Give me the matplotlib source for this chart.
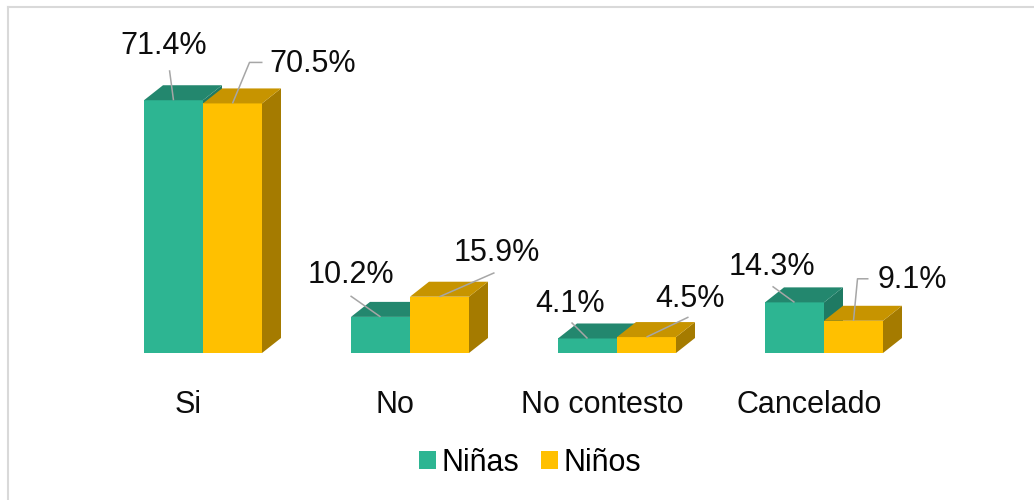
import numpy as np
import matplotlib
matplotlib.use('Agg')
import matplotlib.pyplot as plt
from matplotlib.patches import Polygon, Patch
from matplotlib.lines import Line2D

plt.rcParams['font.family'] = ['Liberation Sans', 'DejaVu Sans']

# Data
categories = ['Si', 'No', 'No contesto', 'Cancelado']
series = ['Niñas', 'Niños']
ninas = [71.4, 10.2, 4.1, 14.3]
ninos = [70.5, 15.9, 4.5, 9.1]
values = [ninas, ninos]

# Colours: front, top, side
front_cols = ['#2DB592', '#FFC000']
top_cols = ['#23876E', '#C79400']
side_cols = ['#1F7A63', '#A57B00']

# Geometry (pixel scale: 207 px per category, 3.54 px per %)
W, H = 1034, 500
px_cat, px_pct = 207.0, 3.54
x0_px, y0_px = 203.0, 353.0
bar_w = 59.0 / px_cat
dep_x = 19.0 / px_cat
dep_y = 15.0 / px_pct
fs = 22

fig = plt.figure(figsize=(W / 100, H / 100), dpi=100)
ax = fig.add_axes([0, 0, 1, 1])
ax.set_xlim(-x0_px / px_cat, (W - x0_px) / px_cat)
ax.set_ylim(-(H - y0_px) / px_pct, y0_px / px_pct)
ax.axis('off')

def box(ax, xl, h, k):
    xr = xl + bar_w
    ax.add_patch(Polygon([(xr, 0), (xr + dep_x, dep_y), (xr + dep_x, h + dep_y), (xr, h)],
                         closed=True, fc=side_cols[k], ec='none'))
    ax.add_patch(Polygon([(xl, 0), (xr, 0), (xr, h), (xl, h)],
                         closed=True, fc=front_cols[k], ec='none'))
    ax.add_patch(Polygon([(xl, h), (xr, h), (xr + dep_x, h + dep_y), (xl + dep_x, h + dep_y)],
                         closed=True, fc=top_cols[k], ec='none'))

for i in range(len(categories)):
    for k in range(2):
        box(ax, i - bar_w + k * bar_w, values[k][i], k)

# Data labels: leader points and text offset in pixels, relative to front-top centre of bar
label_layout = [
    [([(0, 0), (-4, 30)], (-10, 54), 'center'), ([(0, 0), (17, 41), (30, 41)], (37, 39), 'left')],
    [([(0, 0), (-30, 21)], (-30, 42), 'center'), ([(0, 0), (55, 24)], (57, 44), 'center')],
    [([(0, 0), (-16, 16)], (-17, 34), 'center'), ([(0, 0), (42, 20)], (43, 38), 'center')],
    [([(0, 0), (-22, 16)], (-23, 35), 'center'), ([(0, 0), (4, 42), (15, 42)], (24, 41), 'left')],
]

def to_data(xd, yd, dx, dy):
    return xd + dx / px_cat, yd + dy / px_pct

for i in range(len(categories)):
    for k in range(2):
        v = values[k][i]
        cx = i - bar_w / 2 + k * bar_w
        pts, toff, ha = label_layout[i][k]
        xs, ys = zip(*[to_data(cx, v, p[0], p[1]) for p in pts])
        ax.plot(xs, ys, color='#A6A6A6', lw=1.1, solid_capstyle='butt')
        tx, ty = to_data(cx, v, toff[0], toff[1])
        ax.text(tx, ty, f'{v:.1f}%', ha=ha, va='center', fontsize=fs, color='#0D0D0D')

# Category labels
for i, c in enumerate(categories):
    tx, ty = to_data(i, 0, -15, -52)
    ax.text(tx, ty, c, ha='center', va='center', fontsize=fs, color='#0D0D0D')

# Legend
handles = [Patch(fc=front_cols[k], ec='none', label=series[k]) for k in range(2)]
fig.legend(handles=handles, loc='center', bbox_to_anchor=(530 / W, 1 - 463 / H), ncol=2,
           frameon=False, fontsize=fs, handlelength=0.55, handleheight=0.55,
           handletextpad=0.2, columnspacing=0.7, borderpad=0)

# Chart frame (only top and left edges are visible)
fig.add_artist(Line2D([8 / W, 8 / W], [0, 1 - 7 / H], transform=fig.transFigure, color='#D9D9D9', lw=1.5))
fig.add_artist(Line2D([8 / W, 1], [1 - 7 / H, 1 - 7 / H], transform=fig.transFigure, color='#D9D9D9', lw=1.5))

fig.savefig('out.png', dpi=100)
